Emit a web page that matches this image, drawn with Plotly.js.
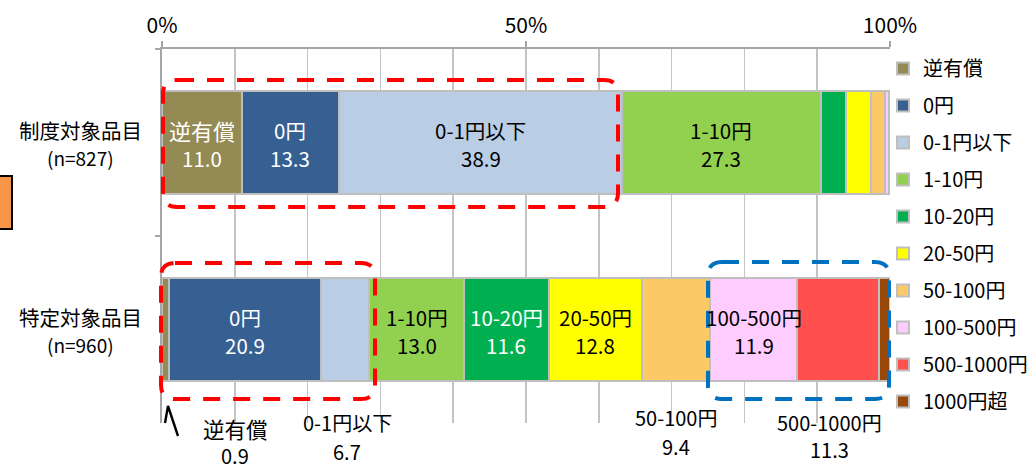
<!DOCTYPE html>
<html>
<head>
<meta charset="utf-8">
<script src="https://cdn.plot.ly/plotly-3.0.1.min.js"></script>
<style>
  html, body { margin: 0; padding: 0; background: #fff; }
  #chart { width: 1034px; height: 469px; }
</style>
</head>
<body>
<div id="chart"></div>
<script>
// 品目区分（縦軸）
const groups = ['制度対象品目', '特定対象品目'];
const groupN = ['(n=827)', '(n=960)'];

// 価格帯区分（凡例順）
const bands = ['逆有償', '0円', '0-1円以下', '1-10円', '10-20円', '20-50円', '50-100円', '100-500円', '500-1000円', '1000円超'];

// 構成比（%）
const seidoShare = [11.0, 13.3, 38.9, 27.3, 3.4, 3.5, 1.9, 0.5, 0.2, 0.0];
const tokuteiShare = [0.9, 20.9, 6.7, 13.0, 11.6, 12.8, 9.4, 11.9, 11.3, 1.5];

// 横軸目盛
const tickVals = [0, 50, 100];
const tickText = ['0%', '50%', '100%'];

const colors = ['#948a54', '#376092', '#b9cde5', '#92d050', '#00b050',
                '#ffff00', '#fdc966', '#ffccff', '#ff5050', '#984807'];

const FONT = '"Noto Sans CJK JP", "Noto Sans", sans-serif';

// plot area in pixels
const L = 162, R = 890, T = 49, B = 423;
const px = x => (x - L) / (R - L);
const py = y => (B - y) / (B - T);

const traces = bands.map((name, i) => ({
  type: 'bar',
  orientation: 'h',
  name: name,
  legendgroup: 'g' + i,
  y: groups,
  x: [seidoShare[i], tokuteiShare[i]],
  marker: { color: colors[i], line: { color: '#bfbfbf', width: 2 } },
  hoverinfo: 'x+name'
}));

// labels: 'w' = white inside, 'k' = black inside, 'o' = below the bar
const placement = [
  ['w', 'w', 'k', 'k', '', '', '', '', '', ''],
  ['o', 'w', 'o', 'k', 'w', 'k', 'o', 'k', 'o', '']
];
// offsets for the labels drawn below the bar: [xshift, name yshift, value yshift, name size]
const below = {
  0: [70, -99, -126, 21.5],
  2: [2, -93, -122, 20],
  6: [0, -88, -117, 20],
  8: [-8, -93, -120, 20]
};

const annotations = [];
[seidoShare, tokuteiShare].forEach((shares, g) => {
  let acc = 0;
  shares.forEach((v, i) => {
    const mid = acc + v / 2;
    acc += v;
    const mode = placement[g][i];
    if (!mode) return;
    if (mode === 'o') {
      const [dx, ny, vy, fs] = below[i];
      annotations.push({ x: mid, y: groups[g], xref: 'x', yref: 'y', xanchor: 'center', yanchor: 'middle',
        text: bands[i], showarrow: false, borderpad: 0,
        xshift: dx, yshift: ny, font: { family: FONT, size: fs, color: '#000' } });
      annotations.push({ x: mid, y: groups[g], xref: 'x', yref: 'y', xanchor: 'center', yanchor: 'middle',
        text: v.toFixed(1), showarrow: false, borderpad: 0,
        xshift: dx, yshift: vy, font: { family: FONT, size: 20, color: '#000' } });
    } else {
      const c = mode === 'w' ? '#ffffff' : '#000000';
      const fs = (i === 0) ? 22 : 20.5;
      annotations.push({ x: mid, y: groups[g], xref: 'x', yref: 'y', xanchor: 'center', yanchor: 'middle',
        text: bands[i], showarrow: false,
        yshift: 13, font: { family: FONT, size: fs, color: c } });
      annotations.push({ x: mid, y: groups[g], xref: 'x', yref: 'y', xanchor: 'center', yanchor: 'middle',
        text: v.toFixed(1), showarrow: false,
        yshift: -15, font: { family: FONT, size: 20.5, color: c } });
    }
  });
});

// category labels at left
groups.forEach((name, g) => {
  annotations.push({ x: px(80), xref: 'paper', y: name, yref: 'y', xanchor: 'center', yanchor: 'middle',
    text: name, showarrow: false,
    yshift: 13, font: { family: FONT, size: 20.5, color: '#000' } });
  annotations.push({ x: px(80), xref: 'paper', y: name, yref: 'y', xanchor: 'center', yanchor: 'middle',
    text: groupN[g], showarrow: false,
    yshift: -15, font: { family: FONT, size: 19, color: '#000' } });
});

// rounded dashed frame, pixel corners converted to paper space
function frame(x0, y0, x1, y1, r) {
  const P = (x, y) => px(x) + ',' + py(y);
  return 'M' + P(x0 + r, y0) + ' L' + P(x1 - r, y0) + ' Q' + P(x1, y0) + ' ' + P(x1, y0 + r) +
         ' L' + P(x1, y1 - r) + ' Q' + P(x1, y1) + ' ' + P(x1 - r, y1) +
         ' L' + P(x0 + r, y1) + ' Q' + P(x0, y1) + ' ' + P(x0, y1 - r) +
         ' L' + P(x0, y0 + r) + ' Q' + P(x0, y0) + ' ' + P(x0 + r, y0) + ' Z';
}
const dash = '17px,13px';
const shapes = [
  { type: 'path', xref: 'paper', yref: 'paper', path: frame(163, 80, 618, 207, 14),
    line: { color: '#ff0000', width: 4, dash: dash } },
  { type: 'path', xref: 'paper', yref: 'paper', path: frame(161, 263, 375, 399, 14),
    line: { color: '#ff0000', width: 4, dash: dash } },
  { type: 'path', xref: 'paper', yref: 'paper', path: frame(708, 262, 889, 399, 14),
    line: { color: '#0070c0', width: 4, dash: dash } },
  // pointer to the thin 逆有償 segment
  { type: 'path', xref: 'paper', yref: 'paper',
    path: 'M' + px(165) + ',' + py(423) + ' L' + px(168) + ',' + py(406) + ' L' + px(178) + ',' + py(436),
    line: { color: '#000', width: 2.4 } },
  // orange marker at the left edge
  { type: 'rect', xref: 'paper', yref: 'paper', x0: px(-4), x1: px(12), y0: py(229), y1: py(176),
    fillcolor: '#f79646', line: { color: '#000', width: 2 } }
];

const layout = {
  width: 1034, height: 469,
  margin: { l: L, r: 1034 - R, t: T, b: 469 - B, pad: 0, autoexpand: false },
  paper_bgcolor: '#fff', plot_bgcolor: '#fff',
  barmode: 'stack',
  bargap: 0.444,
  font: { family: FONT, size: 20, color: '#000' },
  xaxis: {
    side: 'top', range: [0, 100], tickvals: tickVals, ticktext: tickText,
    showgrid: true, gridcolor: '#c4c4c4', gridwidth: 1.5,
    minor: { dtick: 10, showgrid: true, gridcolor: '#c4c4c4', gridwidth: 1.5 },
    showline: true, linecolor: '#a6a6a6', linewidth: 2,
    ticks: 'outside', ticklen: 6, tickcolor: '#a6a6a6', tickwidth: 2,
    tickfont: { family: FONT, size: 21, color: '#000' },
    zeroline: false, fixedrange: true
  },
  yaxis: {
    type: 'category', autorange: 'reversed',
    showticklabels: false, showgrid: false, zeroline: false,
    showline: true, linecolor: '#a6a6a6', linewidth: 2,
    ticks: 'outside', tickson: 'boundaries', ticklen: 5, tickcolor: '#a6a6a6', tickwidth: 2,
    fixedrange: true
  },
  showlegend: true,
  legend: {
    x: px(883), xanchor: 'left', y: py(49), yanchor: 'top',
    traceorder: 'grouped', tracegroupgap: 8,
    font: { family: FONT, size: 20, color: '#000' },
    bgcolor: 'rgba(0,0,0,0)'
  },
  annotations: annotations,
  shapes: shapes
};

Plotly.newPlot('chart', traces, layout, { displayModeBar: false, staticPlot: true });
</script>
</body>
</html>
